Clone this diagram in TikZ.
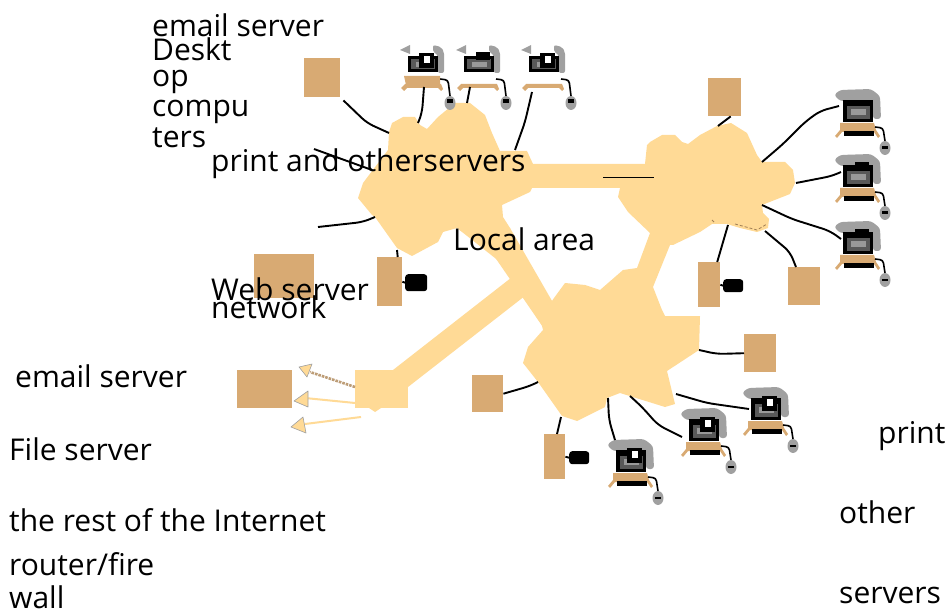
\documentclass[tikz,border=0pt]{standalone}
\usepackage{fontspec}
\setmainfont{Open Sans}
\definecolor{lanfill}{HTML}{FFDA96}
\definecolor{boxfill}{HTML}{D8AA73}
\definecolor{hoodgray}{HTML}{A0A0A0}
\tikzset{
	wire/.style={black,line width=1.9pt,rounded corners=7pt},
	boxnode/.style={fill=boxfill,inner sep=0pt,anchor=north west,minimum width=#1},
	disknode/.style={fill=black,rounded corners=3pt,inner sep=0pt,minimum width=20pt,minimum height=13pt,anchor=north west},
	lbl/.style={anchor=base west,inner sep=0pt,font=\fontsize{30}{32}\selectfont},
	inarrow/.style={draw=hoodgray,fill=lanfill,line width=.6pt,line join=round},
	pcbig/.pic={ % screen with one long hood
		\fill[hoodgray,rounded corners=3pt] (-9,-6) -- (-3,-11) -- (28,-12) -- (37,-5) -- (38,18) -- (30,18) -- (30,0) -- (-3,0) -- cycle;
		\fill[black] (0,-1) rectangle (30,21);
		\fill[black!65] (4,5) rectangle (27,18);
		\fill[black!40] (8,8) rectangle (23,14);
		\fill[boxfill] (-3,22) -- (31,22) -- (33,29) -- (37,35) -- (35,37) -- (31,31) -- (-1,31) -- (-6,37) -- (-8,35) -- (-3,29) -- cycle;
		\fill[black] (1,30) rectangle (31,35);
		\draw[black,line width=1.6pt,rounded corners=3pt] (32,26) -- (40,27) -- (42,40);
		\fill[hoodgray] (42,47) ellipse (5.5 and 7);
		\fill[black] (39,45.5) rectangle (45,48);
	},
	pctop/.pic={ % screen with two hood pieces
		\fill[hoodgray] (-8,-6) -- (2,-11) -- (2,-2) -- cycle;
		\fill[hoodgray,rounded corners=2pt] (25,-11) -- (33,-9) -- (36,-4) -- (36,17) -- (30,17) -- (30,-1) -- (25,-4) -- cycle;
		\fill[black] (0,0) rectangle (30,16);
		\fill[black!65] (3,3) rectangle (27,13);
		\fill[black!40] (8,6) rectangle (23,11);
		\fill[boxfill] (-3,28) -- (33,28) -- (35,33) -- (33,35) -- (30,32) -- (-1,32) -- (-4,35) -- (-7,32) -- cycle;
		\draw[black,line width=1.6pt,rounded corners=3pt] (32,23) -- (40,24) -- (42,40);
		\fill[hoodgray] (42,47) ellipse (5.5 and 7);
		\fill[black] (39,43) rectangle (45,47.5);
	},
	pctab/.pic={ % tab in front of the screen
		\fill[black] (11,-3) rectangle (26,12);
		\fill[white] (15.5,0) rectangle (21.5,7);
	}
}
\begin{document}
\begin{tikzpicture}[x=1pt,y=-1pt]
	\useasboundingbox (0,0) rectangle (947,612);
	% clouds and links
	\fill[lanfill] (388,150) -- (389,132) -- (392,123) -- (403,117) -- (415,117) -- (420,125) -- (427,129) -- (438,117) -- (455,103) -- (470,103) -- (485,115) -- (492,133) -- (500,151) -- (527,151) -- (533,164) -- (620,164) -- (645,164) -- (647,145) -- (650,142) -- (662,135) -- (675,135) -- (682,142) -- (688,144) -- (700,135) -- (717,126) -- (731,123) -- (747,133) -- (757,155) -- (762,162) -- (785,162) -- (793,170) -- (795,183) -- (790,194) -- (762,205) -- (763,213) -- (769,219) -- (768,228) -- (757,232) -- (740,228) -- (727,224) -- (712,224) -- (700,232) -- (673,245) -- (670,245) -- (653,287) -- (662,310) -- (665,316) -- (700,316) -- (699,350) -- (667,371) -- (675,404) -- (665,407) -- (620,393) -- (607,398) -- (605,407) -- (577,421) -- (562,416) -- (538,382) -- (523,363) -- (528,347) -- (543,330) -- (540,318) -- (554,298) -- (565,283) -- (585,285) -- (600,290) -- (623,270) -- (637,268) -- (650,233) -- (628,212) -- (618,197) -- (620,188) -- (532,188) -- (530,192) -- (502,205) -- (503,217) -- (510,228) -- (563,320) -- (545,330) -- (492,253) -- (457,228) -- (443,232) -- (438,242) -- (412,256) -- (397,248) -- (375,217) -- (372,215) -- (358,198) -- (363,183) -- cycle;
	\fill[lanfill] (457,228) -- (510,228) -- (545,330) -- (500,262) -- cycle;
	\fill[lanfill] (393,370) -- (516,274) -- (530,292) -- (408,387) -- cycle;
	\fill[lanfill] (355,370) rectangle (408,408);
	\fill[lanfill] (369,408) -- (381,408) -- (375,412) -- cycle;
	% servers
	\node[boxnode=36pt,minimum height=39pt] (srvA) at (304,58) {};
	\node[boxnode=60pt,minimum height=44pt] (srvB) at (254,254) {};
	\node[boxnode=25pt,minimum height=49pt] (srvC) at (377,257) {};
	\node[boxnode=33pt,minimum height=38pt] (srvD) at (708,78) {};
	\node[boxnode=22pt,minimum height=45pt] (srvE) at (698,262) {};
	\node[boxnode=32pt,minimum height=38pt] (srvF) at (788,267) {};
	\node[boxnode=32pt,minimum height=38pt] (srvG) at (744,334) {};
	\node[boxnode=31pt,minimum height=37pt] (srvH) at (472,375) {};
	\node[boxnode=21pt,minimum height=45pt] (srvI) at (544,434) {};
	\node[boxnode=55pt,minimum height=38pt] (srvJ) at (237,370) {};
	\node[disknode,minimum width=22pt,minimum height=17pt] (diskC) at (405,274) {};
	\node[disknode] (diskE) at (723,279) {};
	\node[disknode] (diskI) at (569,451) {};
	\draw[wire] (srvC.east) -- (diskC.west);
	\draw[wire] (srvE.east) -- (diskE.west);
	\draw[wire] (srvI.east) -- (diskI.west);
	% computers
	\foreach \name/\x/\y in {pcA/843/101,pcB/843/166,pcC/843/233,pcD/616/451,pcE/689/420,pcF/751/399}
	{
		\coordinate (\name) at (\x,\y);
		\pic at (\name) {pcbig};
	}
	\foreach \name/\x/\y in {pcG/408/56,pcH/464/56,pcI/529/56}
	{
		\coordinate (\name) at (\x,\y);
		\pic at (\name) {pctop};
	}
	\foreach \name in {pcD,pcE,pcF,pcG,pcI}
		\pic at (\name) {pctab};
	\fill[black] (855,162) rectangle ++(14,8); % tabs of the plain screens
	\fill[black] (855,229) rectangle ++(14,8);
	\fill[black] (476,52) rectangle (490,60);
	\fill[boxfill] (404,76) -- (440,76) -- (440,85) -- (406,85) -- cycle; % first desktop has a wider base
	% wires, left cloud
	\coordinate (topA) at (389,133);
	\coordinate (topB) at (418,123);
	\coordinate (topC) at (467,103);
	\coordinate (topD) at (515,150);
	\coordinate (topE) at (372,170);
	\coordinate (topF) at (375,217);
	\coordinate (freeE) at (314,149);
	\coordinate (freeF) at (318,227);
	\draw[wire] (srvA.south east) ++(3,3) -- (367,123) -- (topA);
	\draw[wire] (pcG) ++(16,31) -- (422,113) -- (topB);
	\draw[wire] (pcH) ++(6,31) -- (topC);
	\draw[wire] (pcI) ++(3,36) -- (525,122) -- (topD);
	\draw[wire] (freeE) -- (topE);
	\draw[wire] (freeF) -- (363,222) -- (topF);
	\draw[wire] (srvC.north) ++(8,0) -- (397,250);
	% wires, right cloud
	\coordinate (rgtA) at (762,162);
	\coordinate (rgtB) at (796,183);
	\coordinate (rgtC) at (762,205);
	\coordinate (rgtD) at (728,225);
	\coordinate (rgtE) at (765,231);
	\draw[wire] (srvD.south) ++(6,0) -- (718,126);
	\draw[wire] (pcA) ++(-4,5) -- (820,111) -- (805,122) -- (783,144) -- (rgtA);
	\draw[wire] (rgtB) -- (832,176) -- (841,172);
	\draw[wire] (rgtC) -- (792,219) -- (830,231) -- (841,239);
	\draw[wire] (srvE.north) ++(8,0) -- (rgtD);
	\draw[wire] (rgtE) -- (790,252) -- (796,267);
	% wires, lower cloud
	\coordinate (lowA) at (699,350);
	\coordinate (lowB) at (538,382);
	\coordinate (lowC) at (561,417);
	\coordinate (lowD) at (608,398);
	\coordinate (lowE) at (630,396);
	\coordinate (lowF) at (676,394);
	\draw[wire] (lowA) -- (717,354) -- (srvG.west);
	\draw[wire] (lowB) -- (530,386) -- (srvH.east);
	\draw[wire] (lowC) -- (557,434);
	\draw[wire] (lowD) -- (609,420) -- (615,440);
	\draw[wire] (lowE) -- (642,407) -- (658,425) -- (682,437);
	\draw[wire] (lowF) -- (707,403) -- (749,409);
	% odd marks on the clouds
	\coordinate (barA) at (603,177);
	\coordinate (barB) at (654,177);
	\draw[black,line width=.7pt] (barA) -- (barB);
	\draw[boxfill!75!black,densely dashed,line width=.8pt] (712,220) -- (714,222);
	\draw[boxfill!75!black,densely dashed,line width=.8pt] (735,224) -- (757,230) -- (767,224);
	% arrows at the router
	\coordinate (rtA) at (355,387);
	\coordinate (rtB) at (355,403);
	\coordinate (rtC) at (361,417);
	\coordinate (tipA) at (310,372);
	\coordinate (tipB) at (305,398);
	\coordinate (tipC) at (305,424);
	\draw[boxfill!70!gray,line width=2.6pt,densely dotted] (rtA) -- (tipA);
	\draw[lanfill,line width=2pt] (rtB) -- (tipB);
	\draw[lanfill,line width=2pt] (rtC) -- (tipC);
	\fill[inarrow] (299,367) -- (312,364) -- (307,377) -- cycle;
	\fill[inarrow] (294,401) -- (308,391) -- (308,407) -- cycle;
	\fill[inarrow] (291,427) -- (303,417) -- (306,433) -- cycle;
	% labels
	\node[lbl] (lblA) at (152,37) {email server};
	\node[lbl] (lblB) at (152,61) {Deskt};
	\node[lbl] (lblC) at (152,87) {op};
	\node[lbl] (lblD) at (152,117) {compu};
	\node[lbl] (lblE) at (152,148) {ters};
	\node[lbl] (lblF) at (211,172) {print and otherservers};
	\node[lbl] (lblG) at (453,251) {Local area};
	\node[lbl] (lblH) at (211,300) {Web server};
	\node[lbl] (lblI) at (211,318) {network};
	\node[lbl] (lblJ) at (15,387) {email server};
	\node[lbl] (lblK) at (9,460) {File server};
	\node[lbl] (lblL) at (9,531) {the rest of the Internet};
	\node[lbl] (lblM) at (9,575) {router/fire};
	\node[lbl] (lblN) at (9,608) {wall};
	\node[lbl] (lblO) at (878,443) {print};
	\node[lbl] (lblP) at (839,523) {other};
	\node[lbl] (lblQ) at (839,603) {servers};
\end{tikzpicture}
\end{document}
